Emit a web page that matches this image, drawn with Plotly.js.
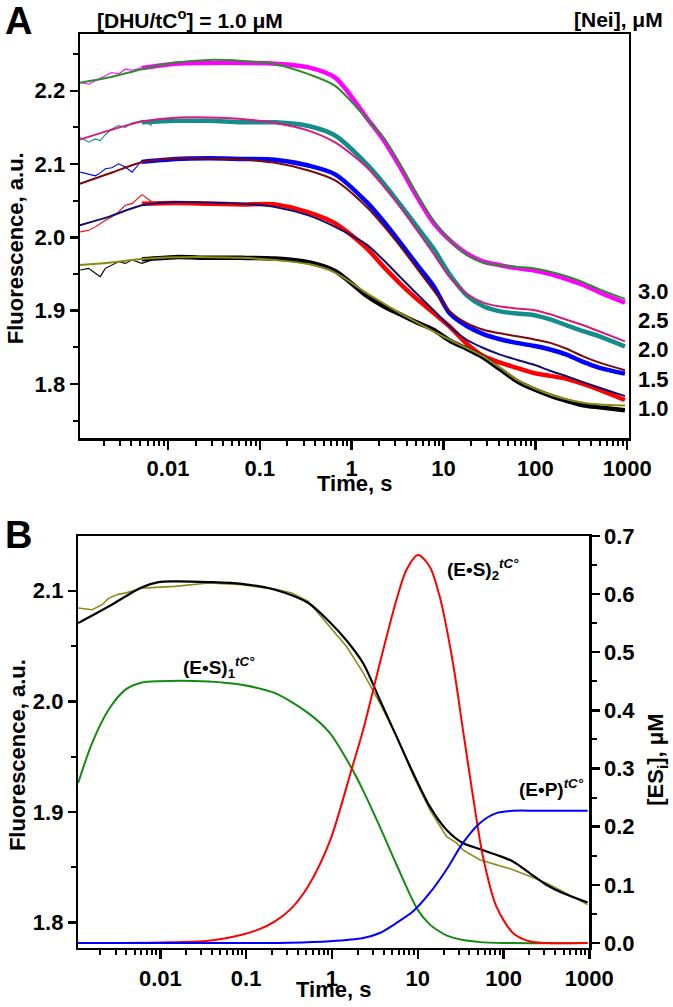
<!DOCTYPE html>
<html>
<head>
<meta charset="utf-8">
<script src="https://cdn.plot.ly/plotly-3.0.1.min.js"></script>
<style>html,body{margin:0;padding:0;background:#fff;}#chart{width:673px;height:1007px;}</style>
</head>
<body>
<div id="chart"></div>
<script>
// ---------------- Panel A data ----------------
const tFitA = [0.0011, 0.00225, 0.0052, 0.012, 0.0277, 0.0638, 0.147, 0.339, 0.661, 1.46, 2.22, 3.37, 5.12, 7.76, 11.75, 17.9, 27.2, 41.3, 62.7, 95, 145, 219, 331, 501, 946];
const fit30 = [2.211, 2.218, 2.2295, 2.2385, 2.2421, 2.2408, 2.2363, 2.2227, 2.2068, 2.162, 2.1366, 2.100, 2.0597, 2.0234, 1.996, 1.976, 1.9654, 1.962, 1.9597, 1.9577, 1.953, 1.947, 1.939, 1.929, 1.916];
const fit25 = [2.1334, 2.1457, 2.1579, 2.1633, 2.1637, 2.1615, 2.156, 2.1457, 2.1295, 2.0958, 2.070, 2.0414, 2.010, 1.978, 1.945, 1.923, 1.911, 1.9056, 1.903, 1.901, 1.895, 1.8875, 1.880, 1.8716, 1.858];
const fit20 = [2.0732, 2.0868, 2.1026, 2.1077, 2.1077, 2.1062, 2.1017, 2.0913, 2.0777, 2.0414, 2.016, 1.988, 1.958, 1.928, 1.899, 1.883, 1.874, 1.869, 1.865, 1.861, 1.856, 1.848, 1.8376, 1.829, 1.8187];
const fit15 = [2.0166, 2.0279, 2.0437, 2.0483, 2.0474, 2.046, 2.0415, 2.030, 2.0143, 1.990, 1.969, 1.946, 1.923, 1.901, 1.878, 1.8603, 1.849, 1.840, 1.833, 1.8264, 1.818, 1.8105, 1.8025, 1.7947, 1.7833];
const fit10 = [1.9622, 1.9654, 1.9704, 1.9727, 1.973, 1.9722, 1.969, 1.9635, 1.952, 1.9238, 1.910, 1.8967, 1.884, 1.8716, 1.860, 1.849, 1.8376, 1.822, 1.806, 1.7945, 1.7856, 1.779, 1.7743, 1.772, 1.7707];

const tEarlyA = [0.00111, 0.00137, 0.00162, 0.00183, 0.00208, 0.00245, 0.0029, 0.00343, 0.00406, 0.00521, 0.0067];
const early30 = [2.2113, 2.209, 2.2136, 2.217, 2.221, 2.2249, 2.223, 2.2295, 2.228, 2.2317, 2.230];
const early25 = [2.1366, 2.1298, 2.1343, 2.132, 2.140, 2.148, 2.1525, 2.150, 2.156, 2.1593, 2.1525];
const early20 = [2.089, 2.086, 2.084, 2.088, 2.0936, 2.095, 2.1004, 2.096, 2.089, 2.1049, 2.103];
const early15 = [2.0075, 2.0098, 2.0143, 2.0189, 2.0234, 2.028, 2.0347, 2.0437, 2.046, 2.0583, 2.0483];
const early10 = [1.9554, 1.9577, 1.951, 1.9464, 1.9577, 1.9622, 1.9667, 1.9645, 1.969, 1.9645, 1.969];

const tBandA = [0.0052, 0.012, 0.0277, 0.0638, 0.147, 0.339, 0.661, 1.46, 2.22, 3.37, 5.12, 7.76, 11.75, 17.9, 27.2, 41.3, 62.7, 95, 145, 219, 331, 501, 946];
const band30 = [2.231, 2.237, 2.238, 2.238, 2.237, 2.232, 2.218, 2.163, 2.133, 2.096, 2.056, 2.020, 1.996, 1.978, 1.967, 1.962, 1.958, 1.955, 1.950, 1.943, 1.935, 1.925, 1.911];
const band25 = [2.157, 2.159, 2.159, 2.157, 2.157, 2.152, 2.139, 2.100, 2.074, 2.045, 2.015, 1.985, 1.949, 1.921, 1.906, 1.899, 1.896, 1.894, 1.888, 1.880, 1.872, 1.865, 1.851];
const band20 = [2.103, 2.107, 2.108, 2.107, 2.106, 2.098, 2.086, 2.048, 2.022, 1.993, 1.963, 1.934, 1.896, 1.879, 1.868, 1.861, 1.856, 1.852, 1.847, 1.840, 1.830, 1.822, 1.814];
const band15 = [2.046, 2.047, 2.046, 2.045, 2.045, 2.034, 2.019, 1.985, 1.960, 1.937, 1.916, 1.897, 1.878, 1.855, 1.838, 1.829, 1.822, 1.815, 1.811, 1.807, 1.800, 1.792, 1.778];
const band10 = [1.970, 1.973, 1.972, 1.972, 1.971, 1.966, 1.954, 1.920, 1.906, 1.895, 1.884, 1.874, 1.859, 1.848, 1.836, 1.820, 1.804, 1.793, 1.784, 1.777, 1.771, 1.768, 1.764];

const concLabels = ['3.0', '2.5', '2.0', '1.5', '1.0'];
const concLabelY = [1.9265, 1.886, 1.847, 1.8058, 1.7664];

// ---------------- Panel B data ----------------
const tFitB = [0.0011, 0.00249, 0.0061, 0.00955, 0.0148, 0.0363, 0.0891, 0.2168, 0.530, 0.946, 1.479, 2.328, 3.614, 5.649, 8.831, 13.80, 21.58, 33.65, 52.72, 82.41, 128.8, 201.4, 314.8, 489.8, 955];
const fitB = [2.0708, 2.0858, 2.1033, 2.1079, 2.1085, 2.1079, 2.1063, 2.1009, 2.0889, 2.0715, 2.0550, 2.0340, 2.0014, 1.9683, 1.9352, 1.905, 1.8839, 1.8718, 1.8664, 1.8612, 1.8552, 1.8447, 1.8341, 1.8266, 1.8181];

const tDataB = [0.0011, 0.0016, 0.0021, 0.0025, 0.0033, 0.0039, 0.0061, 0.0148, 0.0363, 0.0891, 0.2168, 0.339, 0.530, 0.828, 1.479, 2.328, 3.614, 5.649, 8.831, 13.80, 21.58, 28.2, 33.65, 52.72, 82.41, 128.8, 201.4, 314.8, 489.8, 955];
const dataB = [2.0844, 2.0828, 2.0874, 2.0934, 2.097, 2.0979, 2.1024, 2.104, 2.107, 2.1054, 2.1015, 2.098, 2.0903, 2.073, 2.0496, 2.0256, 1.9985, 1.9683, 1.933, 1.902, 1.8778, 1.872, 1.8657, 1.8567, 1.8522, 1.8477, 1.8417, 1.8357, 1.8281, 1.8161];

const tES1 = [0.0011, 0.0016, 0.00249, 0.00389, 0.0061, 0.00955, 0.0363, 0.0891, 0.2168, 0.530, 0.946, 1.706, 2.312, 3.614, 5.649, 10.0, 13.80, 17.38, 21.58, 33.65, 52.72, 100, 955];
const valES1 = [0.275, 0.3436, 0.4009, 0.4352, 0.4478, 0.4502, 0.4496, 0.4438, 0.4296, 0.3952, 0.361, 0.300, 0.262, 0.200, 0.135, 0.057, 0.032, 0.021, 0.013, 0.005, 0.0015, 0, 0];

const tES2 = [0.0011, 0.01, 0.0363, 0.0891, 0.1387, 0.2168, 0.3388, 0.530, 0.946, 1.706, 2.312, 3.614, 5.649, 7.379, 10.09, 13.80, 18.03, 25.76, 33.65, 44.06, 57.54, 82.41, 128.8, 199.5, 316.2, 955];
const valES2 = [0, 0.001, 0.004, 0.0143, 0.0229, 0.0371, 0.060, 0.098, 0.175, 0.30, 0.3665, 0.481, 0.590, 0.6414, 0.667, 0.647, 0.5955, 0.481, 0.3665, 0.2519, 0.1488, 0.0629, 0.0172, 0.003, 0, 0];

const tEP = [0.0011, 0.1, 0.316, 0.946, 2.312, 3.614, 5.649, 8.831, 13.80, 21.58, 33.65, 52.72, 82.41, 128.8, 251.2, 955];
const valEP = [0, 0, 0.0005, 0.003, 0.0086, 0.0172, 0.0344, 0.0544, 0.086, 0.126, 0.172, 0.206, 0.2233, 0.2273, 0.2273, 0.2273];

// tick labels
const xTickVals = [0.01, 0.1, 1, 10, 100, 1000];
const xTickText = ['0.01', '0.1', '1', '10', '100', '1000'];
const yTickValsA = [1.8, 1.9, 2.0, 2.1, 2.2];
const yTickTextA = ['1.8', '1.9', '2.0', '2.1', '2.2'];
const yTickValsB = [1.8, 1.9, 2.0, 2.1];
const yTickTextB = ['1.8', '1.9', '2.0', '2.1'];
const y2TickVals = [0, 0.1, 0.2, 0.3, 0.4, 0.5, 0.6, 0.7];
const y2TickText = ['0.0', '0.1', '0.2', '0.3', '0.4', '0.5', '0.6', '0.7'];
const logMinor = [0.002,0.003,0.004,0.005,0.006,0.007,0.008,0.009,
  0.02,0.03,0.04,0.05,0.06,0.07,0.08,0.09,0.2,0.3,0.4,0.5,0.6,0.7,0.8,0.9,
  2,3,4,5,6,7,8,9,20,30,40,50,60,70,80,90,200,300,400,500,600,700,800,900];
const yMinorA = [1.75, 1.85, 1.95, 2.05, 2.15, 2.25];
const yMinorB = [1.85, 1.95, 2.05];
const y2Minor = [0.05, 0.15, 0.25, 0.35, 0.45, 0.55, 0.65];

// ---------------- build ----------------
const FONT = 'Liberation Sans, Arial, Helvetica, sans-serif';
const W = 673, H = 1007;
// plot area (margins) spanning both panels, in pixels
const M_L = 77.7, M_R = 629, M_T = 34, M_B = 948.3;
const PW = M_R - M_L, PH = M_B - M_T;
const fx = v => (v - M_L) / PW;          // pixel x -> paper
const fy = v => (M_B - v) / PH;          // pixel y -> paper
const A_L = 79.5, A_R = 629, A_T = 34, A_B = 438.5;
const B_L = 77.7, B_R = 589.3, B_T = 536, B_B = 948.3;

const traces = [];
function line(x, y, color, width, xa, ya) {
  return {x: x, y: y, type: 'scatter', mode: 'lines', xaxis: xa, yaxis: ya,
    line: {color: color, width: width, shape: 'spline', smoothing: 0.8}, hoverinfo: 'skip'};
}
function lineL(x, y, color, width, xa, ya) {
  return {x: x, y: y, type: 'scatter', mode: 'lines', xaxis: xa, yaxis: ya,
    line: {color: color, width: width}, hoverinfo: 'skip'};
}
const seriesA = [
  {early: early30, band: band30, fit: fit30, dc: '#ff00ff', fc: '#2e8b2e'},
  {early: early25, band: band25, fit: fit25, dc: '#138c8c', fc: '#d81b7e'},
  {early: early20, band: band20, fit: fit20, dc: '#0000ff', fc: '#7a0a0a'},
  {early: early15, band: band15, fit: fit15, dc: '#ff0000', fc: '#10106e'},
  {early: early10, band: band10, fit: fit10, dc: '#000000', fc: '#8a8a10'}
];
seriesA.forEach(s => {
  traces.push(lineL(tEarlyA, s.early, s.dc, 1.1, 'x', 'y'));
  traces.push(line(tBandA, s.band, s.dc, 4.5, 'x', 'y'));
});
seriesA.forEach(s => {
  traces.push(line(tFitA, s.fit, s.fc, 2, 'x', 'y'));
});
traces.push(lineL(tDataB, dataB, '#8b8b1a', 1.6, 'x2', 'y2'));
traces.push(line(tFitB, fitB, '#000000', 2.2, 'x2', 'y2'));
traces.push(line(tES1, valES1, '#138a13', 2, 'x2', 'y3'));
traces.push(line(tES2, valES2, '#ff0000', 2, 'x2', 'y3'));
traces.push(line(tEP, valEP, '#0000ff', 2, 'x2', 'y3'));

const tickFont = {family: FONT, size: 22, color: '#000', weight: 'bold'};
function minorSpec(vals) {
  return {tickmode: 'array', tickvals: vals, ticks: 'outside', ticklen: 5, tickwidth: 2, tickcolor: '#000'};
}
function xAxis(range, domain, anchor) {
  return {type: 'log', range: range, domain: domain, anchor: anchor,
    showline: true, linewidth: 2.2, linecolor: '#000', mirror: true,
    ticks: 'outside', ticklen: 9, tickwidth: 2.4, tickcolor: '#000',
    tickmode: 'array', tickvals: xTickVals, ticktext: xTickText, tickfont: tickFont,
    minor: minorSpec(logMinor),
    showgrid: false, zeroline: false};
}
function yAxis(range, domain, anchor, vals, text, minorVals, extra) {
  return Object.assign({range: range, domain: domain, anchor: anchor,
    showline: true, linewidth: 2.2, linecolor: '#000',
    ticks: 'outside', ticklen: 8, tickwidth: 2.4, tickcolor: '#000',
    tickmode: 'array', tickvals: vals, ticktext: text, tickfont: tickFont,
    minor: minorSpec(minorVals),
    showgrid: false, zeroline: false}, extra || {});
}

function ann(text, x, y, size, opts) {
  return Object.assign({text: text, x: fx(x), y: fy(y), xref: 'paper', yref: 'paper', showarrow: false,
    xanchor: 'center', yanchor: 'middle', font: {family: FONT, size: size, color: '#000', weight: 'bold'}}, opts || {});
}
const annotations = [
  ann('A', 18, 21, 38),
  ann('B', 18, 535, 38),
  ann('[DHU/tC<sup>o</sup>] = 1.0 μM', 190, 19, 21),
  ann('[Nei], μM', 618, 19, 21),
  ann('Fluorescence, a.u.', 16, 248, 22, {textangle: -90}),
  ann('Time, s', 354, 484, 22),
  ann('Fluorescence, a.u.', 17, 755, 22, {textangle: -90}),
  ann('Time, s', 333.5, 990, 22),
  ann('[ES<sub>i</sub>], μM', 657, 760, 22, {textangle: -90}),
  ann('(E•S)<sub>1</sub><sup><i>tC°</i></sup>', 181, 668, 19, {xanchor: 'left'}),
  ann('(E•S)<sub>2</sub><sup><i>tC°</i></sup>', 445, 570, 19, {xanchor: 'left'}),
  ann('(E•P)<sup><i>tC°</i></sup>', 517, 788, 19, {xanchor: 'left'})
];
concLabels.forEach((c, i) => {
  annotations.push({text: c, x: fx(636), y: concLabelY[i], xref: 'paper', yref: 'y', showarrow: false,
    xanchor: 'left', yanchor: 'middle', font: {family: FONT, size: 22, color: '#000', weight: 'bold'}});
});

const rangeXA = [-2.96, 3.02], rangeXB = [-2.96, 3.0];
const rangeYA = [1.7257, 2.2775], rangeYB = [1.7769, 2.1497], rangeY2 = [-0.0086, 0.7];
const layout = {
  width: W, height: H,
  margin: {l: M_L, r: W - M_R, t: M_T, b: H - M_B, pad: 0},
  paper_bgcolor: '#fff', plot_bgcolor: '#fff', showlegend: false,
  xaxis: xAxis(rangeXA, [fx(A_L), fx(A_R)], 'y'),
  yaxis: yAxis(rangeYA, [fy(A_B), fy(A_T)], 'x', yTickValsA, yTickTextA, yMinorA, {mirror: true}),
  xaxis2: xAxis(rangeXB, [fx(B_L), fx(B_R)], 'y2'),
  yaxis2: yAxis(rangeYB, [fy(B_B), fy(B_T)], 'x2', yTickValsB, yTickTextB, yMinorB),
  yaxis3: yAxis(rangeY2, [fy(B_B), fy(B_T)], 'x2', y2TickVals, y2TickText, y2Minor, {overlaying: 'y2', side: 'right'}),
  annotations: annotations
};
Plotly.newPlot('chart', traces, layout, {displayModeBar: false, staticPlot: true});
</script>
</body>
</html>
